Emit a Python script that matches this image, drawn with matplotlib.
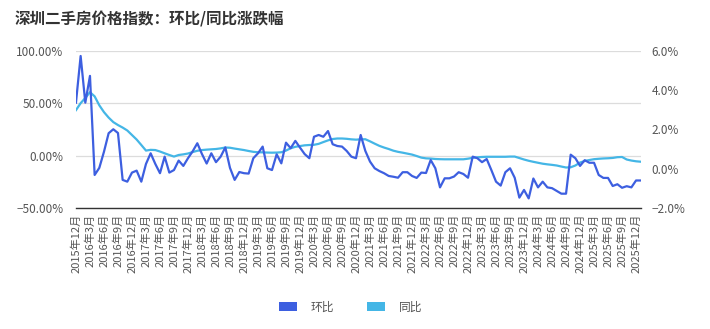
import matplotlib
matplotlib.use("Agg")
import matplotlib.pyplot as plt
from matplotlib.patches import Patch
from matplotlib.ticker import FixedLocator, FuncFormatter
import numpy as np

plt.rcParams['font.family'] = ['Noto Sans CJK SC', 'DejaVu Sans']
plt.rcParams['axes.unicode_minus'] = True

# monthly categories: 2015-12 .. 2026-01
months = ['2015年12月'] + [f'{y}年{m}月' for y in range(2016, 2026) for m in range(1, 13)] + ['2026年1月']

# month-on-month change, % (right axis)
mom = [3.36, 5.73, 3.36, 4.72, -0.31, 0.05, 0.87, 1.81, 2.01, 1.82,
       -0.56, -0.65, -0.19, -0.09, -0.65, 0.25, 0.79, 0.25, -0.22, 0.62,
       -0.19, -0.06, 0.42, 0.15, 0.54, 0.89, 1.30, 0.75, 0.27, 0.79,
       0.34, 0.62, 1.09, 0.05, -0.56, -0.16, -0.22, -0.24, 0.54, 0.79,
       1.13, 0.03, -0.06, 0.74, 0.28, 1.33, 1.05, 1.42, 1.08, 0.75,
       0.54, 1.63, 1.72, 1.63, 1.92, 1.25, 1.16, 1.13, 0.91, 0.62,
       0.54, 1.72, 0.91, 0.37, 0.03, -0.11, -0.22, -0.36, -0.40, -0.45,
       -0.17, -0.17, -0.36, -0.46, -0.19, -0.21, 0.45, 0.03, -0.94, -0.48,
       -0.48, -0.39, -0.17, -0.26, -0.45, 0.62, 0.54, 0.34, 0.50, -0.06,
       -0.65, -0.85, -0.17, 0.03, -0.45, -1.46, -1.07, -1.50, -0.49, -0.94,
       -0.65, -0.94, -0.98, -1.12, -1.26, -1.26, 0.72, 0.54, 0.15, 0.44,
       0.31, 0.31, -0.31, -0.46, -0.46, -0.87, -0.78, -0.96, -0.88, -0.94,
       -0.59, -0.59]

# year-on-year change, % (left axis)
yoy = [43.4, 50.0, 55.0, 60.5, 56.5, 48.0, 41.5, 36.3, 32.0, 29.2,
       26.8, 24.0, 19.7, 15.4, 10.2, 4.9, 5.6, 5.4, 4.0, 2.3,
       0.7, -0.8, 0.7, 1.3, 2.1, 3.5, 4.7, 5.4, 5.8, 6.1,
       6.4, 7.0, 7.8, 7.6, 6.8, 6.1, 5.4, 4.5, 3.7, 3.3,
       3.2, 3.0, 2.9, 3.0, 3.3, 4.9, 7.1, 8.5, 9.2, 9.9,
       10.2, 10.4, 11.3, 13.0, 14.6, 15.9, 16.4, 16.4, 16.1, 15.6,
       15.3, 15.6, 15.7, 13.7, 11.5, 9.4, 7.8, 6.4, 4.8, 3.7,
       2.9, 2.0, 1.1, -0.3, -1.8, -2.5, -2.7, -3.1, -3.3, -3.4,
       -3.4, -3.4, -3.4, -3.4, -2.8, -2.0, -1.5, -1.2, -1.0, -1.0,
       -1.0, -1.0, -1.0, -0.8, -0.8, -2.2, -3.6, -4.8, -5.8, -6.7,
       -7.6, -8.2, -8.7, -9.3, -10.3, -11.2, -11.0, -9.3, -6.5, -5.0,
       -4.1, -3.3, -2.9, -2.6, -2.4, -2.1, -1.4, -1.2, -3.6, -4.6,
       -5.3, -5.7]

left_ticks = [-50, 0, 50, 100]
right_ticks = [-2, 0, 2, 4, 6]

c_mom = '#3d5fe0'
c_yoy = '#44b6e6'
txt = '#555555'

fig = plt.figure(figsize=(7.1, 3.29), dpi=100)
ax = fig.add_axes([0.107, 0.367, 0.7954, 0.479])
ax2 = ax.twinx()

x = np.arange(len(months))
ax.plot(x, yoy, color=c_yoy, lw=1.6, solid_joinstyle='round')
ax2.plot(x, mom, color=c_mom, lw=1.6, solid_joinstyle='round')

ax.set_xlim(0, len(months) - 1)
ax.set_ylim(-50, 100)
ax2.set_ylim(-2, 6)

ax.yaxis.set_major_locator(FixedLocator(left_ticks))
ax.yaxis.set_major_formatter(FuncFormatter(lambda v, p: f'{v:.2f}%'.replace('-', '\u2212')))
ax2.yaxis.set_major_locator(FixedLocator(right_ticks))
ax2.yaxis.set_major_formatter(FuncFormatter(lambda v, p: f'{v:.1f}%'.replace('-', '\u2212')))

ax.set_xticks(x[::3])
ax.set_xticklabels(months[::3], rotation=90, ha='center', va='top')

ax.grid(axis='y', color='#dcdcdc', lw=0.9)
ax.set_axisbelow(True)
for a in (ax, ax2):
    for s in a.spines.values():
        s.set_visible(False)
ax.spines['bottom'].set_visible(True)
ax.spines['bottom'].set_color('#333333')
ax.spines['bottom'].set_linewidth(1.0)

ax.tick_params(axis='y', length=0, pad=9, labelsize=8.5, labelcolor=txt)
ax.tick_params(axis='x', length=0, pad=4, labelsize=8, labelcolor=txt)
ax2.tick_params(axis='y', length=0, pad=8, labelsize=8.5, labelcolor=txt)

fig.text(0.02, 0.94, '深圳二手房价格指数：环比/同比涨跌幅', fontsize=11.2,
         fontweight='bold', color='#333333', va='center', ha='left')

handles = [Patch(facecolor=c_mom, edgecolor='none', label='环比'),
           Patch(facecolor=c_yoy, edgecolor='none', label='同比')]
leg = fig.legend(handles=handles, loc='center', bbox_to_anchor=(0.494, 0.067), ncol=2,
                 frameon=False, fontsize=8.5, handlelength=1.5, handleheight=0.75,
                 handletextpad=1.2, columnspacing=2.8)
for t in leg.get_texts():
    t.set_color(txt)

fig.savefig('out.png', dpi=100)
